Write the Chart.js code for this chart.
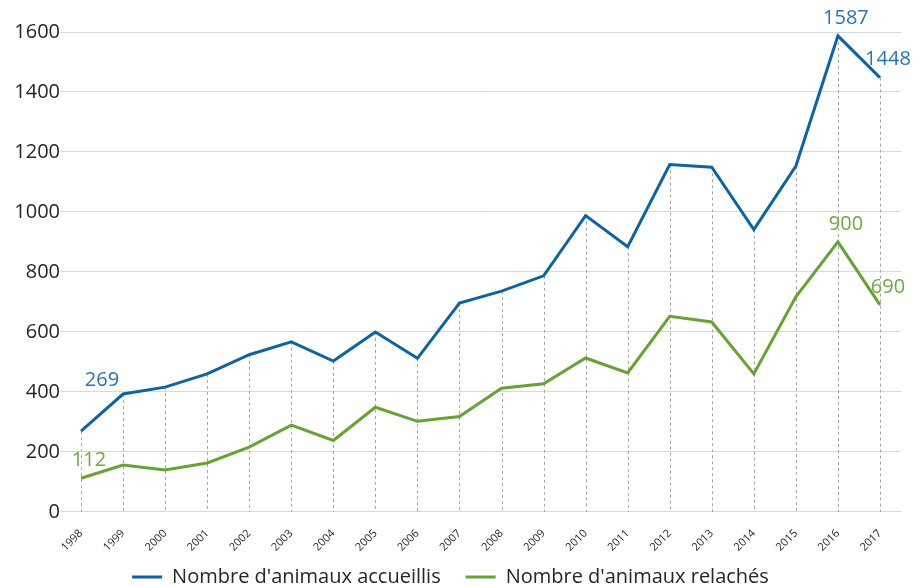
<!DOCTYPE html>
<html>
<head>
<meta charset="utf-8">
<script src="https://cdn.jsdelivr.net/npm/chart.js@4/dist/chart.umd.min.js"></script>
<style>
  html, body { margin: 0; padding: 0; background: #ffffff; }
  #wrap { width: 921px; height: 586px; }
</style>
</head>
<body>
<div id="wrap"><canvas id="c" width="921" height="586"></canvas></div>
<script>
const years = ['1998','1999','2000','2001','2002','2003','2004','2005','2006','2007','2008','2009','2010','2011','2012','2013','2014','2015','2016','2017'];
const accueillis = [269, 393, 416, 460, 524, 567, 503, 600, 512, 696, 736, 787, 988, 884, 1158, 1149, 941, 1153, 1587, 1448];
const relaches = [112, 156, 140, 163, 216, 289, 238, 349, 302, 318, 412, 427, 513, 463, 652, 633, 460, 717, 900, 690];
const labelledIndices = [0, 18, 19];
const yTicks = [0, 200, 400, 600, 800, 1000, 1200, 1400, 1600];

const blueLine = '#1063a3';
const greenLine = '#67a234';
const blueText = '#2a72b3';
const greenText = '#6ea744';

const dropLines = {
  id: 'dropLines',
  beforeDatasetsDraw(chart) {
    const { ctx, chartArea } = chart;
    const xs = chart.scales.x, ys = chart.scales.y;
    ctx.save();
    ctx.strokeStyle = '#a6a6a6';
    ctx.lineWidth = 1;
    ctx.setLineDash([3, 3]);
    years.forEach((y, i) => {
      const top = Math.max(...chart.data.datasets.map(d => d.data[i]));
      const x = Math.round(xs.getPixelForValue(i)) + 0.5;
      ctx.beginPath();
      ctx.moveTo(x, ys.getPixelForValue(top));
      ctx.lineTo(x, chartArea.bottom);
      ctx.stroke();
    });
    ctx.restore();
  }
};

const pointLabels = {
  id: 'pointLabels',
  afterDatasetsDraw(chart, args, opts) {
    const { ctx } = chart;
    ctx.save();
    ctx.font = '20px "Open Sans"';
    ctx.textAlign = 'center';
    ctx.textBaseline = 'middle';
    chart.data.datasets.forEach((ds, di) => {
      const meta = chart.getDatasetMeta(di);
      labelledIndices.forEach(i => {
        const pt = meta.data[i];
        const off = (opts.offsets[di] && opts.offsets[di][i]) || opts.defaultOffset;
        ctx.fillStyle = ds.labelColor;
        ctx.fillText(String(ds.data[i]), pt.x + off[0], pt.y + off[1]);
      });
    });
    ctx.restore();
  }
};

new Chart(document.getElementById('c'), {
  type: 'line',
  data: {
    labels: years,
    datasets: [
      {
        label: "Nombre d'animaux accueillis",
        data: accueillis,
        borderColor: blueLine,
        backgroundColor: blueLine,
        labelColor: blueText,
        borderWidth: 3,
        pointRadius: 0,
        tension: 0
      },
      {
        label: "Nombre d'animaux relachés",
        data: relaches,
        borderColor: greenLine,
        backgroundColor: greenLine,
        labelColor: greenText,
        borderWidth: 3,
        pointRadius: 0,
        tension: 0
      }
    ]
  },
  options: {
    responsive: false,
    animation: false,
    devicePixelRatio: 1,
    layout: { padding: { left: 0, right: 20, top: 32, bottom: -11 } },
    scales: {
      x: {
        offset: true,
        afterFit(scale) {
          scale.height -= 19;
          scale._computeLabelArea = () => undefined;
        },
        grid: { display: false },
        border: { display: false },
        ticks: {
          color: '#262626',
          font: { family: '"Open Sans"', size: 11 },
          minRotation: 45,
          maxRotation: 45,
          autoSkip: false,
          padding: 7
        }
      },
      y: {
        min: 0,
        max: 1600,
        afterBuildTicks(scale) { scale.ticks = yTicks.map(v => ({ value: v })); },
        afterFit(scale) { scale.width = 60; },
        grid: { color: '#d9d9d9', lineWidth: 1, drawTicks: false },
        border: { display: false },
        ticks: {
          color: '#262626',
          font: { family: '"Open Sans"', size: 20 },
          padding: 0,
          callback: (v) => String(v)
        }
      }
    },
    plugins: {
      legend: {
        position: 'bottom',
        labels: {
          usePointStyle: true,
          pointStyle: 'line',
          pointStyleWidth: 30,
          color: '#262626',
          font: { family: '"Open Sans"', size: 20 },
          padding: 25
        }
      },
      tooltip: { enabled: false },
      pointLabels: {
        defaultOffset: [8, -18],
        offsets: { 0: { 0: [21, -51] } }
      }
    }
  },
  plugins: [dropLines, pointLabels]
});
</script>
</body>
</html>
